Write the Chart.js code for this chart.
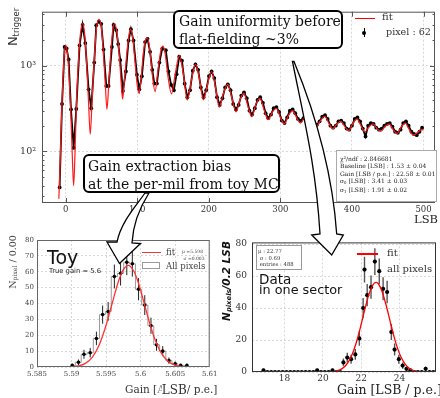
<!DOCTYPE html>
<html><head><meta charset="utf-8">
<script src="https://cdn.jsdelivr.net/npm/chart.js@4.4.1/dist/chart.umd.min.js"></script>
<style>
body{margin:0;background:#fff;width:440px;height:398px;overflow:hidden;position:relative;font-family:"DejaVu Serif",serif}
canvas{position:absolute}
.t{position:absolute;white-space:nowrap;color:#222;line-height:1}
.box{position:absolute;border:2px solid #000;border-radius:6px;background:#fff;box-sizing:border-box}
.rot{position:absolute;white-space:nowrap;transform:translate(-50%,-50%) rotate(-90deg);line-height:1}
sub{font-size:65%;vertical-align:-0.25em}
svg{position:absolute;left:0;top:0}
</style></head><body>
<canvas id="cMain" style="left:0;top:0" width="440" height="230"></canvas>
<canvas id="cToy" style="left:0;top:232px" width="220" height="166"></canvas>
<canvas id="cData" style="left:220px;top:232px" width="220" height="166"></canvas>

<svg width="440" height="398">
<path d="M145 193 C136 206,121 222,117 242 L107 242 L119.5 263.5 L140.5 243.5 L132 243 C133 225,140 207,149 193 Z" fill="#fff" stroke="#000" stroke-width="1.3"/>
<path d="M292.5 61.5 C303 115,316 165,320 234 L311.7 235 L331.7 255 L343.3 235 L336.7 234 C333 180,318 120,294 61.5 Z" fill="#fff" stroke="#000" stroke-width="1.3"/>
</svg>

<!-- main chart texts -->
<div class="rot" style="left:13px;top:27px;font-family:'DejaVu Sans';font-size:13px;color:#333">N<sub>trigger</sub></div>
<div class="t" style="left:414px;top:214px;font-size:11.5px;color:#222">LSB</div>
<div class="box" style="left:173px;top:10px;width:170px;height:39px"></div>
<div class="t" style="left:179px;top:13px;font-size:14px;line-height:17.7px;color:#111">Gain uniformity before<br>flat-fielding ~3%</div>
<div class="box" style="left:83px;top:154px;width:197px;height:39px"></div>
<div class="t" style="left:88px;top:157px;font-size:14px;line-height:18.4px;color:#111">Gain extraction bias<br>at the per-mil from toy MC</div>
<div style="position:absolute;left:355px;top:17.5px;width:20px;height:1.6px;background:#f00"></div>
<div class="t" style="left:382px;top:12px;font-size:10px;color:#333">fit</div>
<div style="position:absolute;left:363.5px;top:28px;width:1.4px;height:9px;background:#000"></div>
<div style="position:absolute;left:362.3px;top:30.5px;width:4px;height:4px;border-radius:50%;background:#000"></div>
<div class="t" style="left:386px;top:27px;font-size:9.6px;color:#333">pixel : 62</div>
<div style="position:absolute;left:336px;top:150px;width:101px;height:52px;border:1px solid #aaa;background:#fff;box-sizing:border-box"></div>
<div class="t" style="left:340px;top:155px;font-size:6px;line-height:7.3px;color:#222">χ²/ndf : 2.846681<br>Baseline [LSB] : 1.53 ± 0.04<br>Gain [LSB / p.e.] : 22.58 ± 0.01<br>σ<sub>0</sub> [LSB] : 3.41 ± 0.03<br>σ<sub>1</sub> [LSB] : 1.91 ± 0.02</div>

<!-- toy texts -->
<div class="rot" style="left:12.5px;top:262px;font-size:9.5px;color:#444">N<sub>pixel</sub> / 0.00</div>
<div class="t" style="left:125px;top:383px;font-size:10.5px;color:#333">Gain [<span style="color:#888">A</span><span style="position:relative;margin-left:-3px;font-size:12px;background:#fff;top:1px">LSB</span>/ p.e.]</div>
<div class="t" style="left:47px;top:248px;font-family:'DejaVu Sans';font-size:19px;color:#111">Toy</div>
<div class="t" style="left:49px;top:268px;font-family:'DejaVu Sans';font-size:6.8px;color:#222">True gain = 5.6</div>
<div style="position:absolute;left:142px;top:251.5px;width:19px;height:1.6px;background:#f33"></div>
<div class="t" style="left:166px;top:247.5px;font-size:8.5px;color:#444">fit</div>
<div style="position:absolute;left:142px;top:262px;width:18px;height:7px;border:1px solid #999;box-sizing:border-box"></div>
<div class="t" style="left:166px;top:261.5px;font-size:8.5px;color:#444">All pixels</div>
<div class="t" style="left:182px;top:249px;font-size:4.5px;line-height:6.5px;color:#444">μ =5.598<br>&nbsp;σ =0.003</div>

<!-- data texts -->
<div class="rot" style="left:227px;top:281px;font-family:'DejaVu Sans';font-weight:bold;font-style:italic;font-size:10.5px;color:#111">N<sub>pixels</sub>/0.2 LSB</div>
<div class="t" style="left:337px;top:384px;font-size:12.5px;color:#222">Gain [LSB / p.e.]</div>
<div style="position:absolute;left:256px;top:245px;width:46px;height:25px;border:1px solid #999;background:#fff;box-sizing:border-box"></div>
<div class="t" style="left:258px;top:248px;font-size:5.3px;line-height:6.6px;color:#333">μ : 22.77<br>&nbsp;σ : 0.69<br>&nbsp;entries : 488</div>
<div class="t" style="left:259px;top:273px;font-family:'DejaVu Sans';font-size:13.5px;color:#111">Data</div>
<div class="t" style="left:259px;top:284px;font-family:'DejaVu Sans';font-size:12.8px;color:#111">in one sector</div>
<div style="position:absolute;left:357px;top:253px;width:21px;height:1.6px;background:#f00"></div>
<div class="t" style="left:387px;top:248px;font-size:10px;color:#333">fit</div>
<div class="t" style="left:387px;top:264px;font-size:10px;color:#333">all pixels</div>

<script>
// ---------------- main pixel spectrum ----------------
const pixLSB = [-8.4,-5.0,-1.4,1.4,4.2,7.5,11.2,14.9,19.5,23.7,27.5,32.1,35.8,40.0,42.8,46.5,49.8,53.0,56.8,60.0,
64.7,67.0,70.7,73.5,76.3,80.0,84.2,87.9,91.2,94.8,99.6,103.0,106.5,111.0,114.4,118.0,121.0,124.0,127.5,131.0,135.0,140.0,143.7,
147.4,151.2,155.0,158.7,162.5,166.3,170.0,173.8,177.6,181.4,185.1,188.9,192.7,196.4,200.2,204.0,207.7,211.5,215.3,219.1,222.8,
226.6,230.4,234.1,237.9,241.7,245.4,249.2,253.0,256.8,260.5,264.3,268.1,271.8,275.6,279.4,283.1,286.9,290.7,294.5,298.2,302.0,
305.8,309.5,313.3,317.1,320.8,324.6,328.4,332.2,335.9,339.7,343.5,347.2,351.0,354.8,358.5,362.3,366.1,369.9,373.6,377.4,381.2,
384.9,388.7,392.5,396.2,400.0,403.8,407.6,411.3,415.1,418.9,422.6,426.4,430.2,433.9,437.7,441.5,445.3,449.0,452.8,456.6,460.3,
464.1,467.9,471.6,475.4,479.2,483.0,486.7,490.5,494.3,498.0];
const pixCounts = [38,359,1665,1600,1192,310,110,314,1736,3014,1849,532,320,1094,2990,3300,3100,1550,582,582,
1665,3014,2622,1800,1170,510,863,1980,2690,1980,790,532,757,1898,2070,1460,900,622,622,1094,1594,1524,863,
600,520,800,1280,1150,620,430,520,880,1040,900,560,430,520,760,860,720,430,350,420,560,
610,520,360,310,350,450,490,420,300,270,320,400,430,370,280,245,270,320,330,290,230,
215,250,300,310,280,240,228,245,280,290,270,220,205,225,255,265,240,200,190,200,225,
230,215,185,180,200,240,250,225,185,150,200,215,210,190,180,185,200,210,215,195,170,
165,180,215,225,200,170,160,155,170,190];

const fitLSB = [-9.5,-8,-5,-2,0,2.5,5,7.5,9.5,11.2,13,15,18,21,23.7,26.5,29.5,32,34.4,37,40,43,46.5,50,53,55.5,57.7,60,63,66,68.5,71.5,75,77.5,79.5,82,85.5,88.5,90.5,93.5,97,100,102.5,105,108.5,111.5,114,117,121,125,129,133,136,139,143,148,153,159,164.5,170,176,181.5,187,192.5,198,204,209.5,214.5,220.5,226.5,232,238,243.5,249,254.5,260,266,271.5,277,283,289,294.5,300,305.5,311,317,322.5,328,334,339.5,345,350.5,356,362,367.5,373,379,384.5,390,395.5,401,407,412.5,418,424,429.5,435,440.5,446,452,457.5,463,469,474.5,480,485.5,491,497,500];
const fitCounts = [28,60,380,1300,1750,1400,700,250,80,40,90,330,1200,2500,3130,2400,1000,380,159,400,1200,2700,3500,2800,1300,600,310,560,1400,2700,3130,2500,1300,650,410,650,1400,2300,2700,2200,1100,600,480,650,1400,2000,2125,1700,800,500,900,1500,1700,1400,750,470,800,1320,800,400,700,1050,700,400,600,860,550,330,480,610,430,290,400,480,340,255,360,420,310,235,290,320,250,210,260,300,250,215,255,285,235,195,230,258,215,185,210,225,195,175,210,240,200,170,195,210,185,172,195,210,180,162,195,215,180,155,165,180,178];

const mainXTicks = [0,100,200,300,400,500];
const mainYTicks = [100,1000];
const mainYTickLabels = {100:'10²',1000:'10³'};
const mainYMinor = [30,40,50,60,70,80,90,200,300,400,500,600,700,800,900,2000,3000,4000];

// ---------------- toy MC ----------------
const toyGain = [5.5901,5.5910,5.5918,5.5927,5.5936,5.5945,5.5953,5.5962,5.5971,5.5980,5.5988,5.5997,5.6006,5.6015,5.6023,5.6032,5.6041,5.6050,5.6058,5.6067];
const toyCounts = [1,3,8,9,18,33,35,57,59,66,65,49,39,26,14,10,4,2,1,1];
const toyFitGain = [5.5900,5.5910,5.5920,5.5930,5.5940,5.5950,5.5955,5.5960,5.5965,5.5970,5.5975,5.5982,5.5990,5.5995,5.6000,5.6005,5.6010,5.6015,5.6020,5.6030,5.6040,5.6050,5.6060,5.6070];
const toyFitVal = [0.2,0.7,2.3,6.1,13.8,26.3,34.0,42.0,49.8,56.5,61.3,64,60.5,55.3,48.3,40.4,32.4,24.9,18.3,8.7,3.5,1.2,0.3,0.1];
const toyXTicks = [5.585,5.59,5.595,5.6,5.605,5.61];
const toyXLabels = ['5.585','5.59','5.595','5.6','5.605','5.61'];
const toyYTicks = [0,10,20,30,40,50,60,70,80];

// ---------------- data in one sector ----------------
const dataGain = [16.9,17.1,17.3,17.5,17.7,17.9,18.1,18.3,18.5,18.7,18.9,19.1,19.3,19.5,19.7,19.9,20.1,20.3,20.5,20.7,20.9,
21.07,21.27,21.47,21.69,21.9,22.1,22.17,22.31,22.51,22.71,22.94,23.14,23.35,23.57,23.74,23.96,24.16,24.36,24.56,24.76,24.96,25.16,25.36,25.56,25.76];
const dataCounts = [1,0,0,0,0,0,0,0,0,0,0,0,0,0,1,0,0,0,1,0,0,
6,9,8,11,21,40,64,48,53,69,63,52,50,25,14,8,4,2,1,0,0,0,2,0,0];
const dataFitGain = [20.5,20.8,21.0,21.2,21.4,21.6,21.8,22.0,22.2,22.4,22.6,22.77,22.9,23.1,23.3,23.5,23.7,23.9,24.1,24.3,24.5,24.7,25.0,25.3];
const dataFitVal = [0.25,0.95,2.1,4.2,7.8,13.3,20.8,30.0,39.8,48.5,54.3,56,55.0,49.9,41.7,32.0,22.6,14.6,8.7,4.8,2.4,1.1,0.3,0.05];
const dataXTicks = [18,20,22,24];
const dataYTicks = [0,20,40,60,80];

// ---------------- helpers ----------------
const SERIF = '"DejaVu Serif", serif';
Chart.defaults.font.family = SERIF;
Chart.defaults.animation = false;
Chart.defaults.plugins.legend.display = false;
Chart.defaults.plugins.tooltip.enabled = false;

const pts = (xs, ys) => xs.map((x, i) => ({x, y: ys[i]}));

const framePlugin = {
  id: 'frame',
  afterDraw(chart, args, o) {
    const a = chart.chartArea, c = chart.ctx;
    c.save(); c.strokeStyle = o.color || '#333'; c.lineWidth = o.width || 1;
    c.strokeRect(a.left + 0.5, a.top + 0.5, a.right - a.left - 1, a.bottom - a.top - 1);
    c.restore();
  }
};
const errPlugin = {
  id: 'errbars',
  beforeDatasetsDraw(chart) {
    const c = chart.ctx, ys = chart.scales.y;
    chart.data.datasets.forEach((ds, i) => {
      if (!ds.errBars) return;
      const meta = chart.getDatasetMeta(i);
      c.save(); c.strokeStyle = ds.errColor; c.lineWidth = ds.errWidth;
      c.beginPath();
      meta.data.forEach((p, j) => {
        const v = ds.data[j].y, e = Math.sqrt(v);
        if (e <= 0) return;
        c.moveTo(p.x, ys.getPixelForValue(v + e));
        c.lineTo(p.x, ys.getPixelForValue(Math.max(v - e, ys.min)));
      });
      c.stroke(); c.restore();
    });
  }
};
const innerTicks = {
  id: 'innerTicks',
  afterDraw(chart, args, o) {
    const a = chart.chartArea, c = chart.ctx, xs = chart.scales.x, ys = chart.scales.y;
    c.save(); c.strokeStyle = o.color; c.lineWidth = 1; c.beginPath();
    (o.x || []).forEach(v => { const p = Math.round(xs.getPixelForValue(v)) + 0.5;
      c.moveTo(p, a.bottom); c.lineTo(p, a.bottom - o.len); c.moveTo(p, a.top); c.lineTo(p, a.top + o.len); });
    (o.y || []).forEach(v => { const p = Math.round(ys.getPixelForValue(v)) + 0.5;
      c.moveTo(a.left, p); c.lineTo(a.left + o.len, p); c.moveTo(a.right, p); c.lineTo(a.right - o.len, p); });
    (o.yMinor || []).forEach(v => { const p = Math.round(ys.getPixelForValue(v)) + 0.5;
      c.moveTo(a.left, p); c.lineTo(a.left + o.len / 2, p); c.moveTo(a.right, p); c.lineTo(a.right - o.len / 2, p); });
    c.stroke(); c.restore();
  }
};
const gridStyle = {color: '#cfcfcf', lineWidth: 0.8, drawTicks: false};
const borderStyle = {display: false, dash: [2, 2]};

// ---------------- main chart ----------------
new Chart(document.getElementById('cMain'), {
  type: 'line',
  plugins: [framePlugin, innerTicks],
  data: {datasets: [
    {data: pts(fitLSB, fitCounts), borderColor: '#ff1a1a', borderWidth: 1.2, pointRadius: 0, cubicInterpolationMode: 'monotone', order: 1},
    {data: pts(pixLSB, pixCounts), borderColor: '#000', backgroundColor: '#000', borderWidth: 1.8, pointRadius: 1.9, pointBorderWidth: 0, order: 2}
  ]},
  options: {
    responsive: false, devicePixelRatio: 1,
    layout: {padding: {top: 7, right: 5, left: 0, bottom: 0}},
    plugins: {frame: {color: '#555'}, innerTicks: {color: '#555', len: 5, x: mainXTicks, y: mainYTicks, yMinor: mainYMinor}},
    scales: {
      x: {type: 'linear', min: -33, max: 516,
        afterBuildTicks: s => { s.ticks = mainXTicks.map(v => ({value: v})); },
        afterFit: s => { s.height = 27; },
        grid: gridStyle, border: borderStyle,
        ticks: {font: {size: 8.5}, color: '#333', padding: 2, maxRotation: 0}},
      y: {type: 'logarithmic', min: 25, max: 4300,
        afterBuildTicks: s => { s.ticks = mainYTicks.map(v => ({value: v})); },
        afterFit: s => { s.width = 42; },
        grid: gridStyle, border: borderStyle,
        ticks: {font: {size: 9.5}, color: '#333', padding: 6, callback: v => mainYTickLabels[v] || ''}}
    }
  }
});

// ---------------- toy chart ----------------
new Chart(document.getElementById('cToy'), {
  type: 'line',
  plugins: [framePlugin, errPlugin],
  data: {datasets: [
    {data: pts(toyFitGain, toyFitVal), borderColor: '#ff3333', borderWidth: 1.3, pointRadius: 0, cubicInterpolationMode: 'monotone', order: 1},
    {data: pts(toyGain, toyCounts), showLine: false, pointRadius: 1.8, pointBorderWidth: 0, backgroundColor: '#000', borderColor: '#000',
      errBars: true, errColor: '#222', errWidth: 1, order: 2},
    {data: pts(toyGain, toyCounts), stepped: 'middle', borderColor: '#9a9a9a', borderWidth: 1, pointRadius: 0, order: 3}
  ]},
  options: {
    responsive: false, devicePixelRatio: 1,
    layout: {padding: {top: 8, right: 7, left: 0, bottom: 0}},
    plugins: {frame: {color: '#666'}},
    scales: {
      x: {type: 'linear', min: 5.585, max: 5.61,
        afterBuildTicks: s => { s.ticks = toyXTicks.map(v => ({value: v})); },
        afterFit: s => { s.height = 31; },
        grid: gridStyle, border: borderStyle,
        ticks: {font: {size: 7}, color: '#444', padding: 2.5, maxRotation: 0, callback: (v, i) => toyXLabels[i]}},
      y: {type: 'linear', min: 0, max: 80,
        afterBuildTicks: s => { s.ticks = toyYTicks.map(v => ({value: v})); },
        afterFit: s => { s.width = 37; },
        grid: gridStyle, border: borderStyle,
        ticks: {font: {size: 7}, color: '#444', padding: 3}}
    }
  }
});

// ---------------- data chart ----------------
new Chart(document.getElementById('cData'), {
  type: 'line',
  plugins: [framePlugin, errPlugin],
  data: {datasets: [
    {data: pts(dataFitGain, dataFitVal), borderColor: '#ff0000', borderWidth: 1.3, pointRadius: 0, cubicInterpolationMode: 'monotone', order: 1},
    {data: pts(dataGain, dataCounts), showLine: false, pointRadius: 2.1, pointBorderWidth: 0, backgroundColor: '#000', borderColor: '#000',
      errBars: true, errColor: '#555', errWidth: 1.4, order: 2}
  ]},
  options: {
    responsive: false, devicePixelRatio: 1,
    layout: {padding: {top: 10, right: 1, left: 0, bottom: 0}},
    plugins: {frame: {color: '#333'}},
    scales: {
      x: {type: 'linear', min: 16.3, max: 25.9,
        afterBuildTicks: s => { s.ticks = dataXTicks.map(v => ({value: v})); },
        afterFit: s => { s.height = 26; },
        grid: gridStyle, border: borderStyle,
        ticks: {font: {size: 9}, color: '#333', padding: 1, maxRotation: 0}},
      y: {type: 'linear', min: 0, max: 81,
        afterBuildTicks: s => { s.ticks = dataYTicks.map(v => ({value: v})); },
        afterFit: s => { s.width = 32; },
        grid: gridStyle, border: borderStyle,
        ticks: {font: {size: 9}, color: '#333', padding: 5}}
    }
  }
});
</script>
</body></html>
